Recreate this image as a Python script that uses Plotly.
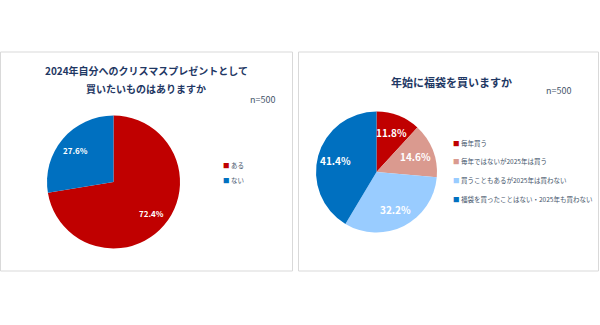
import math
import plotly.graph_objects as go

# --- data ---------------------------------------------------------------
gift_labels = ["ある", "ない"]
gift_values = [72.4, 27.6]
gift_colors = ["#C00000", "#0070C0"]
gift_title = ["2024年自分へのクリスマスプレゼントとして", "買いたいものはありますか"]

bag_labels = ["毎年買う", "毎年ではないが2025年は買う",
              "買うこともあるが2025年は買わない", "福袋を買ったことはない・2025年も買わない"]
bag_values = [11.8, 14.6, 32.2, 41.4]
bag_colors = ["#C00000", "#DA9A8F", "#99CCFF", "#0070C0"]
bag_title = "年始に福袋を買いますか"

sample_note = "n=500"

W, H = 600, 325
FONT = "Noto Sans CJK JP"
NAVY = "#1F3864"


def px(x):
    return x / W


def py(y):
    return 1 - y / H


def pie_domain(cx, cy, r):
    return dict(x=[px(cx - r), px(cx + r)], y=[py(cy + r), py(cy - r)])


fig = go.Figure()
ann = []


def add_pie(labels, values, colors, cx, cy, r, label_size, label_frac):
    fig.add_trace(go.Pie(
        labels=labels, values=values, sort=False, direction="clockwise",
        rotation=0, marker=dict(colors=colors, line=dict(width=0)),
        textinfo="none", domain=pie_domain(cx, cy, r), showlegend=False,
        hoverinfo="label+value",
    ))
    # percentage labels placed at each slice's mid-angle
    total = sum(values)
    start = 0.0
    for v in values:
        mid = (start + v / 2) / total * 2 * math.pi
        start += v
        x = cx + label_frac * r * math.sin(mid)
        y = cy - label_frac * r * math.cos(mid)
        ann.append(dict(text=f"<b>{v:.1f}%</b>", x=px(x), y=py(y),
                        xref="paper", yref="paper", xanchor="center", yanchor="middle",
                        showarrow=False,
                        font=dict(family=FONT, size=label_size, color="white")))


add_pie(gift_labels, gift_values, gift_colors, 113.5, 182, 66.5, 8, 0.74)
add_pie(bag_labels, bag_values, bag_colors, 376.5, 172, 60.5, 10, 0.70)

shapes = []
for x0, x1 in [(0.5, 292.5), (298.5, 598.5)]:
    shapes.append(dict(type="rect", xref="paper", yref="paper",
                       x0=px(x0), x1=px(x1), y0=py(271), y1=py(52),
                       line=dict(color="#D9D9D9", width=1), fillcolor="rgba(0,0,0,0)"))

# chart titles
for line, y in zip(gift_title, [70, 88]):
    ann.append(dict(text=f"<b>{line}</b>", x=px(146), y=py(y), xref="paper", yref="paper",
                    xanchor="center", yanchor="middle", showarrow=False,
                    font=dict(family=FONT, size=10, color=NAVY)))
ann.append(dict(text=f"<b>{bag_title}</b>", x=px(451), y=py(82), xref="paper", yref="paper",
                xanchor="center", yanchor="middle", showarrow=False,
                font=dict(family=FONT, size=11, color=NAVY)))
# sample size notes
for x, y in [(262, 99), (558, 90)]:
    ann.append(dict(text=sample_note, x=px(x), y=py(y), xref="paper", yref="paper",
                    xanchor="center", yanchor="middle", showarrow=False,
                    font=dict(family=FONT, size=9, color="#44546A")))


def legend_items(labels, colors, x, ys):
    for lab, col, y in zip(labels, colors, ys):
        ann.append(dict(
            text=f"<span style='color:{col}'>■</span> {lab}",
            x=px(x), y=py(y), xref="paper", yref="paper",
            xanchor="left", yanchor="middle", showarrow=False,
            font=dict(family=FONT, size=6.5, color="#44546A")))


legend_items(gift_labels, gift_colors, 221, [165, 179.5])
legend_items(bag_labels, bag_colors, 451, [143, 161, 180, 199])

fig.update_layout(
    width=W, height=H, margin=dict(l=0, r=0, t=0, b=0),
    paper_bgcolor="white", plot_bgcolor="white",
    shapes=shapes, annotations=ann,
)

fig.write_html("out.html")
